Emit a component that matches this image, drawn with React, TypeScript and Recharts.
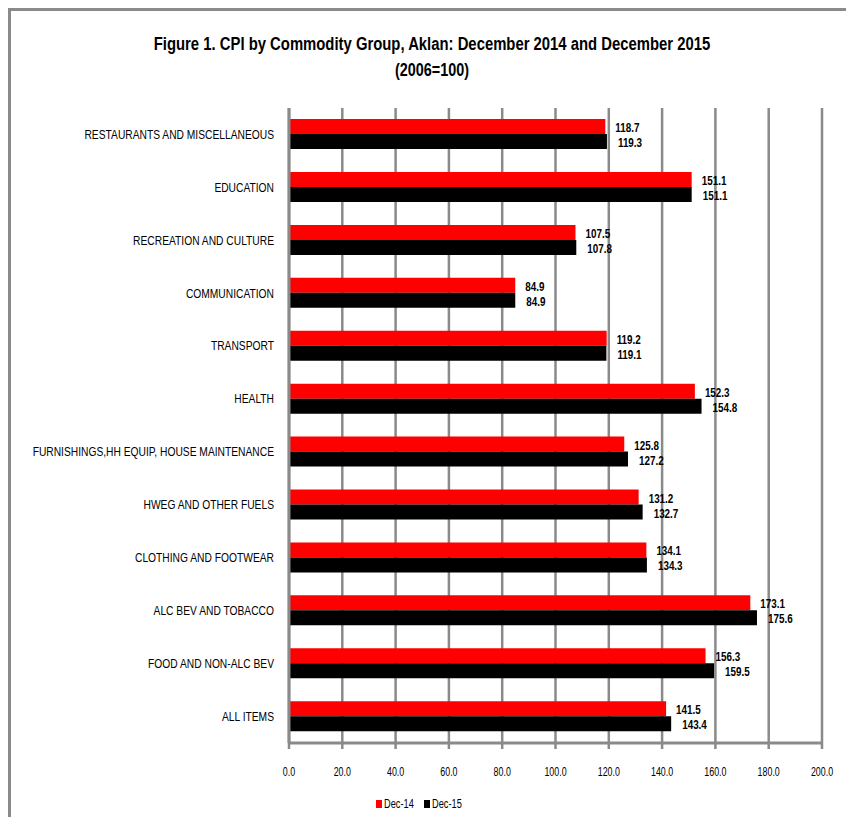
import React from 'react';
import { BarChart, Bar, XAxis, YAxis, CartesianGrid, LabelList, Legend } from 'recharts';

const categories = [
  'RESTAURANTS AND MISCELLANEOUS',
  'EDUCATION',
  'RECREATION AND CULTURE',
  'COMMUNICATION',
  'TRANSPORT',
  'HEALTH',
  'FURNISHINGS,HH  EQUIP, HOUSE MAINTENANCE',
  'HWEG AND OTHER FUELS',
  'CLOTHING AND FOOTWEAR',
  'ALC BEV AND TOBACCO',
  'FOOD AND NON-ALC BEV',
  'ALL ITEMS',
];
const dec14 = [118.7, 151.1, 107.5, 84.9, 119.2, 152.3, 125.8, 131.2, 134.1, 173.1, 156.3, 141.5];
const dec15 = [119.3, 151.1, 107.8, 84.9, 119.1, 154.8, 127.2, 132.7, 134.3, 175.6, 159.5, 143.4];
const xTicks = [0, 20, 40, 60, 80, 100, 120, 140, 160, 180, 200];
const bandTicks = [0, 1, 2, 3, 4, 5, 6, 7, 8, 9, 10, 11, 12];
const seriesNames = ['Dec-14', 'Dec-15'];
const seriesColors = ['#ff0000', '#000000'];

const data = categories.map((name, i) => ({ name, d14: dec14[i], d15: dec15[i] }));

const FONT = '"Liberation Sans", Arial, sans-serif';
const GRAY = '#8a8a8a';

const CategoryTick = (props: any) => {
  const { x, y, payload } = props;
  return (
    <text
      transform={`translate(${x},${y}) scale(0.855,1)`}
      textAnchor="end"
      dominantBaseline="central"
      fontSize={12}
      fontFamily={FONT}
      fill="#000"
    >
      {payload.value}
    </text>
  );
};

const NumberTick = (props: any) => {
  const { x, y, payload } = props;
  return (
    <text
      transform={`translate(${x},${y}) scale(0.74,1)`}
      textAnchor="middle"
      dy="0.71em"
      fontSize={12}
      fontFamily={FONT}
      fill="#000"
    >
      {Number(payload.value).toFixed(1)}
    </text>
  );
};

const ValueLabel = (props: any) => {
  const { x, y, width, height, value, offset } = props;
  const tx = x + width + offset;
  const ty = y + height / 2 + 1;
  return (
    <text
      transform={`translate(${tx},${ty}) scale(0.76,1)`}
      textAnchor="start"
      dominantBaseline="central"
      fontSize={13}
      fontWeight="bold"
      fontFamily={FONT}
      fill="#000"
    >
      {Number(value).toFixed(1)}
    </text>
  );
};

const LegendContent = () => (
  <div style={{ display: 'flex', fontFamily: FONT, fontSize: 12, color: '#000', whiteSpace: 'nowrap' }}>
    {seriesNames.map((n, i) => (
      <div key={n} style={{ display: 'flex', alignItems: 'center', marginRight: 13 }}>
        <span style={{ width: 6, height: 8, background: seriesColors[i], display: 'inline-block', marginRight: 2 }} />
        <span style={{ display: 'inline-block', width: 27, overflow: 'visible' }}>
          <span style={{ display: 'inline-block', transform: 'scaleX(0.77)', transformOrigin: 'left center' }}>{n}</span>
        </span>
      </div>
    ))}
  </div>
);

export default function App() {
  return (
    <div style={{ position: 'relative', width: 846, height: 809, overflow: 'hidden' }}>
      <style>{'html,body{overflow:hidden}'}</style>
      <div style={{ position: 'absolute', left: 0, top: 0, width: 843, height: 806, borderTop: `3px solid ${GRAY}`, borderLeft: `3px solid ${GRAY}` }} />
      <div style={{ position: 'absolute', left: 0, top: 23, width: 848, textAlign: 'center', fontFamily: FONT, fontWeight: 'bold', fontSize: 18, lineHeight: '26px', color: '#000', whiteSpace: 'nowrap' }}>
        <div style={{ transform: 'scaleX(0.825)' }}>Figure 1. CPI by Commodity Group, Aklan: December 2014 and December 2015</div>
        <div style={{ transform: 'scaleX(0.8)' }}>(2006=100)</div>
      </div>
      <div style={{ position: 'absolute', left: 0, top: 0 }}>
        <BarChart
          width={838}
          height={809}
          data={data}
          layout="vertical"
          margin={{ top: 100, right: 24, bottom: 34, left: 11 }}
          barGap={0}
          barCategoryGap="21%"
        >
          <CartesianGrid horizontal={false} vertical={true} stroke={GRAY} strokeWidth={2.5} />
          <XAxis
            type="number"
            domain={[0, 200]}
            ticks={xTicks}
            interval={0}
            height={40}
            axisLine={{ stroke: GRAY, strokeWidth: 3 }}
            tickLine={{ stroke: GRAY, strokeWidth: 2.5 }}
            tickSize={6}
            tickMargin={18}
            tick={<NumberTick />}
          />
          <YAxis
            yAxisId="bands"
            type="number"
            domain={[0, 12]}
            ticks={bandTicks}
            interval={0}
            width={0}
            axisLine={false}
            tickLine={{ stroke: GRAY, strokeWidth: 2.5 }}
            tickSize={6}
            tick={() => <g />}
          />
          <YAxis
            type="category"
            dataKey="name"
            width={270}
            interval={0}
            axisLine={{ stroke: GRAY, strokeWidth: 3 }}
            tickLine={false}
            tickSize={5}
            tickMargin={10}
            tick={<CategoryTick />}
          />
          <Legend layout="horizontal" verticalAlign="middle" align="center" content={<LegendContent />} wrapperStyle={{ top: 789, left: 368, width: 200 }} />
          <Bar dataKey="d14" name={seriesNames[0]} fill={seriesColors[0]} isAnimationActive={false}>
            <LabelList dataKey="d14" position="right" offset={10} content={<ValueLabel />} />
          </Bar>
          <Bar dataKey="d15" name={seriesNames[1]} fill={seriesColors[1]} isAnimationActive={false}>
            <LabelList dataKey="d15" position="right" offset={11} content={<ValueLabel />} />
          </Bar>
        </BarChart>
      </div>
    </div>
  );
}
